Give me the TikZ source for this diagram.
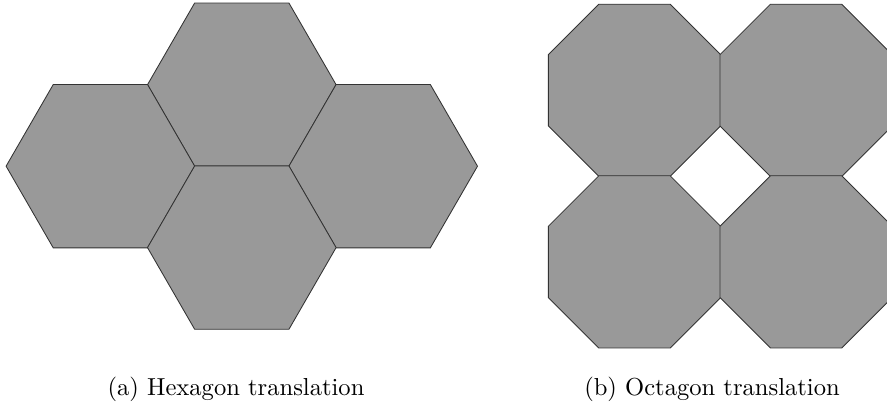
\documentclass[tikz,border=0pt]{standalone}
\begin{document}
\begin{tikzpicture}[x=0.407pt,y=-0.407pt,
  tile/.style={fill=black!40,draw=black!80,line width=0.35pt,line join=miter},
  captext/.style={anchor=base,inner sep=0pt,font=\normalsize}]
\useasboundingbox (0,0) rectangle (887,408);
\begin{scope}
\clip (0,0) rectangle (887,408);
% hexagons (side 94.3)
\foreach \cx/\cy in {241.8/84.7, 100.4/166.2, 383.2/166.2, 241.8/247.6}{
  \draw[tile,shift={(\cx,\cy)}] (0:94.3) -- (60:94.3) -- (120:94.3) -- (180:94.3) -- (240:94.3) -- (300:94.3) -- cycle;
}
% octagons (side 71.3, circumradius 93.2)
\foreach \cx/\cy in {634.5/90.3, 806.1/90.3, 634.5/261.9, 806.1/261.9}{
  \draw[tile,shift={(\cx,\cy)}] (22.5:93.2) -- (67.5:93.2) -- (112.5:93.2) -- (157.5:93.2) -- (202.5:93.2) -- (247.5:93.2) -- (292.5:93.2) -- (337.5:93.2) -- cycle;
}
\end{scope}
\node[captext] (capa) at (236,396) {(a) Hexagon translation};
\node[captext] (capb) at (712,396) {(b) Octagon translation};
\end{tikzpicture}
\end{document}
